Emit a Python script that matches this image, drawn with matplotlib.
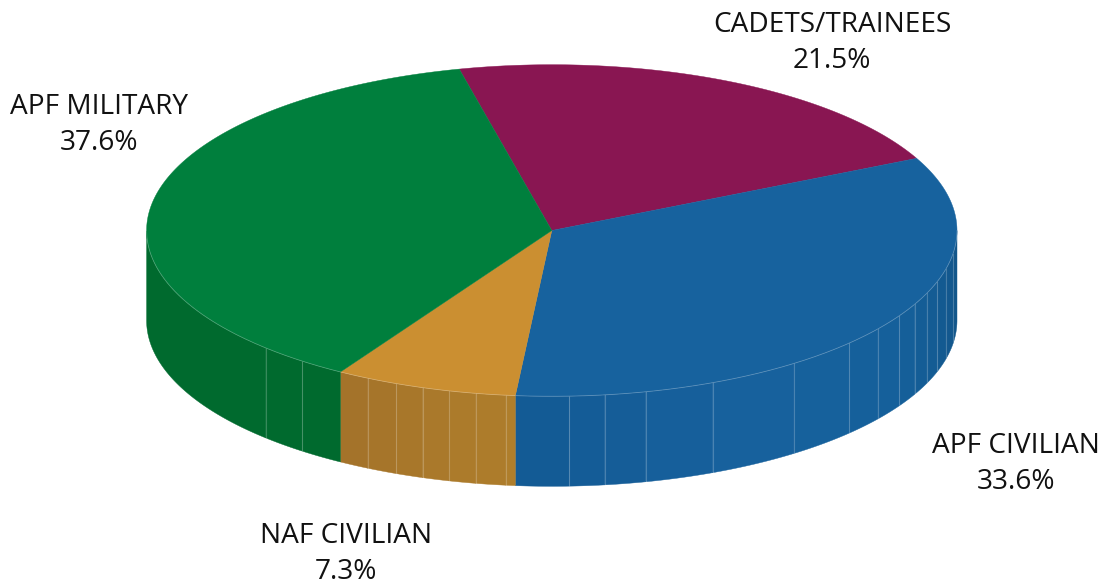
import numpy as np
import matplotlib
matplotlib.use("Agg")
import matplotlib.pyplot as plt
from matplotlib.patches import Polygon
from matplotlib.colors import to_rgb

# data
categories = ["CADETS/TRAINEES", "APF CIVILIAN", "NAF CIVILIAN", "APF MILITARY"]
shares = [21.5, 33.6, 7.3, 37.6]
top_colors = ["#891652", "#17629E", "#CB8F31", "#007F3D"]
side_colors = [["#891652"], ["#125487", "#15609B", "#17619D", "#135A94"], ["#AF7E2B", "#A3722A"], ["#006A2E", "#006A2E"]]
seam_angles = [-8, -13.4, -18, -22.2, -26.4, -31, -36.4, -42.8, -53.3, -66.6, -76.6, -82.5, -87.5,
               -96.5, -100.8, -104.7, -108.6, -112.6, -117, -128, -134.9]
label_pos = [(832, 43), (1016, 464), (346, 554), (99, 125)]

START = 103.2
CX, CY, RX, RY, DEPTH = 551.8, 230.5, 405.2, 165.8, 90.0

fig = plt.figure(figsize=(11.06, 5.86), dpi=100)
ax = fig.add_axes([0, 0, 1, 1])
ax.set_xlim(0, 1106)
ax.set_ylim(586, 0)
ax.axis("off")


def pt(t, dz=0.0):
    r = np.radians(t)
    return CX + RX * np.cos(r), CY - RY * np.sin(r) + dz


def arc(a, b, dz=0.0):
    t = np.linspace(a, b, max(2, int(abs(a - b) * 2) + 2))
    x, y = pt(t, dz)
    return np.column_stack([x, y])


def ramp(stops, f):
    rgb = np.array([to_rgb(c) for c in stops])
    pos = np.linspace(0, 1, len(stops))
    return tuple(np.interp(f, pos, rgb[:, k]) for k in range(3))


ends = START - np.cumsum(shares) * 3.6
starts = np.r_[START, ends[:-1]]

# side walls (only the front half is visible)
for a, b, stops in zip(starts, ends, side_colors):
    hi = min(a, 0)
    lo = max(b, -180)
    if hi <= lo:
        continue
    inner = [s for s in seam_angles if lo < s < hi]
    cuts = [hi] + inner + [lo]
    for u, v in zip(cuts[:-1], cuts[1:]):
        f = (0.5 * (u + v) - hi) / (lo - hi)
        c = ramp(stops, f)
        poly = np.vstack([arc(u, v), arc(v, u, DEPTH)])
        ax.add_patch(Polygon(poly, closed=True, fc=c, ec=c, lw=0.3, zorder=2))

# seams between the wall facets
for s in seam_angles:
    x0, y0 = pt(s)
    x1, y1 = pt(s, DEPTH)
    ax.plot([x0, x1], [y0, y1], color="white", alpha=0.22, lw=0.8, zorder=3)

# top face
for a, b, c in zip(starts, ends, top_colors):
    poly = np.vstack([[CX, CY], arc(a, b)])
    ax.add_patch(Polygon(poly, closed=True, fc=c, ec=c, lw=0.3, zorder=4))

# pale rim between top face and wall
rim = arc(0, -180)
ax.plot(rim[:, 0], rim[:, 1], color="white", alpha=0.25, lw=0.6, zorder=5)

for name, val, (x, y) in zip(categories, shares, label_pos):
    ax.text(x, y, f"{name}\n{val}%", ha="center", va="center", fontsize=20.2,
            family="Open Sans", color="#111111", linespacing=1.42, zorder=6)

fig.savefig("out.png", dpi=100)
